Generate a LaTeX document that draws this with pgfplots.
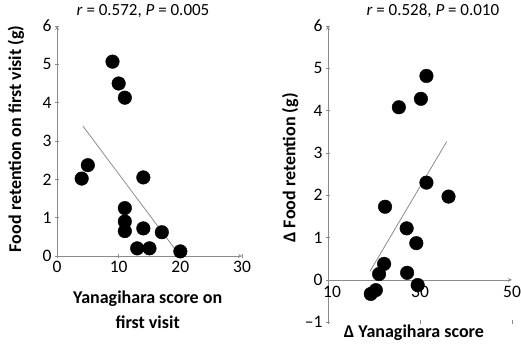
\documentclass[border=0pt]{standalone}
\usepackage{pgfplots}
\pgfplotsset{compat=1.18}
\usepackage{fontspec}
\setmainfont{Carlito}
\definecolor{axgray}{RGB}{140,140,140}
\newcommand{\lblfont}{\fontsize{18}{25}\selectfont\bfseries}
\pgfplotsset{
  excel/.style={
    scale only axis,
    axis line style={-,axgray,line width=0.8pt},
    tick align=outside, major tick length=4pt,
    tick style={axgray,line width=0.8pt},
    ticklabel style={font=\fontsize{17.5}{18}\selectfont,text=black},
    /pgf/number format/assume math mode=true,
    clip=false,
    xtick pos=bottom, ytick pos=left,
    title style={font=\fontsize{17}{18}\selectfont},
    hide obscured x ticks=false, hide obscured y ticks=false,
  }
}
\begin{document}
\begin{tikzpicture}[x=1pt,y=1pt]
\useasboundingbox (0,0) rectangle (521,343);
\begin{axis}[excel,
  at={(57pt,87pt)}, anchor=south west, width=185pt, height=230pt,
  xmin=0,xmax=30,ymin=0,ymax=6,
  axis x line=bottom, axis y line=left,
  xtick={0,10,20,30}, ytick={0,1,2,3,4,5,6},
  title={\textit{r} = 0.572, \textit{P} = 0.005},
  title style={at={(axis description cs:0.465,1.039)},anchor=center},
  xlabel={Yanagihara score on\\first visit},
  xlabel style={at={(axis description cs:0.49,-0.235)},anchor=center,align=center,font=\lblfont},
  ylabel={Food retention on first visit (g)},
  ylabel style={at={(axis description cs:-0.222,0.509)},anchor=center,rotate=0,font=\lblfont},
]
\addplot[axgray,line width=0.8pt] coordinates {(4.2,3.39) (19.5,0.1)};
\addplot[only marks,mark=*,mark size=6.8pt,black] coordinates {
(9,5.07) (10,4.5) (11,4.13) (4,2.02) (5,2.37) (14,2.05)
(11,1.25) (11,0.9) (11,0.65) (14,0.72) (17,0.62) (13,0.2) (15,0.2) (20,0.12)};
\end{axis}
\begin{axis}[excel,
  at={(328pt,20.7pt)}, anchor=south west, width=184pt, height=296.3pt,
  xmin=10,xmax=50,ymin=-1,ymax=6,
  axis x line=middle, axis y line=left,
  xtick={10,30,50}, ytick={-1,0,1,2,3,4,5,6},
  xticklabels={\hspace*{8pt}10,30,50},
  yticklabels={--1,0,1,2,3,4,5,6},
  xticklabel style={yshift=-1pt},
  title={\textit{r} = 0.528, \textit{P} = 0.010},
  title style={at={(axis description cs:0.57,1.03)},anchor=center},
  xlabel={Δ Yanagihara score},
  xlabel style={at={(axis description cs:0.467,-0.036)},anchor=center,font=\lblfont},
  ylabel={Δ Food retention (g)},
  ylabel style={at={(axis description cs:-0.206,0.521)},anchor=center,rotate=0,font=\lblfont},
]
\addplot[axgray,line width=0.8pt] coordinates {(19.1,0.2) (35.8,3.27)};
\addplot[only marks,mark=*,mark size=6.8pt,black] coordinates {
(31.4,4.82) (30.2,4.28) (25.4,4.08) (31.4,2.3) (36.2,1.97) (22.4,1.73)
(27.1,1.22) (29.2,0.87) (22.2,0.38) (21.1,0.14) (27.2,0.17) (29.5,-0.12)
(20.4,-0.24) (19.3,-0.33)};
\end{axis}
\end{tikzpicture}
\end{document}
